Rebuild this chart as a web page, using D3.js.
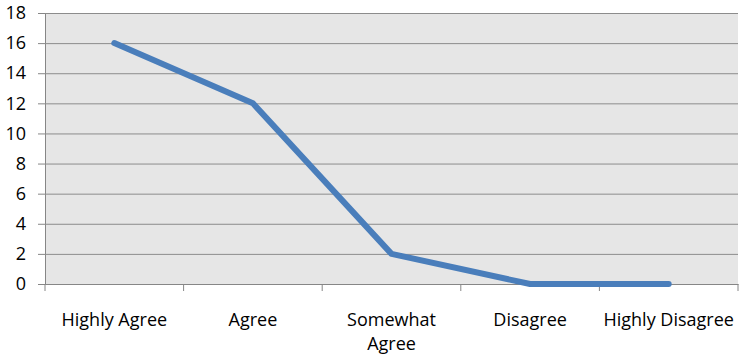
<!DOCTYPE html>
<html>
<head>
<meta charset="utf-8">
<script src="https://cdn.jsdelivr.net/npm/d3@7"></script>
<style>
  body { margin: 0; background: #fff; }
  text { font-family: "Open Sans", "Noto Sans", sans-serif; }
</style>
</head>
<body>
<div id="chart"></div>
<script>
// data
var categories = ["Highly Agree", "Agree", "Somewhat Agree", "Disagree", "Highly Disagree"];
var values = [16, 12, 2, 0, 0];
var yTicks = [0, 2, 4, 6, 8, 10, 12, 14, 16, 18];

var width = 746, height = 355;
var margin = {top: 13, right: 8, bottom: 71, left: 45};
var visWidth = width - margin.left - margin.right,
    visHeight = height - margin.top - margin.bottom;

var svg = d3.select("#chart").append("svg")
    .attr("width", width)
    .attr("height", height);

var g = svg.append("g")
    .attr("transform", `translate(${margin.left}, ${margin.top})`);

var x = d3.scaleBand()
    .domain(categories)
    .range([0, visWidth]);

var y = d3.scaleLinear()
    .domain([0, 18])
    .range([visHeight, 0]);

// plot background
g.append("rect")
    .attr("width", visWidth)
    .attr("height", visHeight)
    .attr("fill", "#e6e6e6");

// y axis with grid lines
g.append("g")
    .call(d3.axisLeft(y).tickValues(yTicks).tickSize(7).tickPadding(12))
    .call(g => g.select(".domain").attr("stroke", "#868686"))
    .call(g => g.selectAll(".tick line").attr("stroke", "#868686"))
    .call(g => g.selectAll(".tick line")
      .clone()
        .attr("x1", 0)
        .attr("x2", visWidth)
        .attr("stroke", "#8c8c8c"))
    .call(g => g.selectAll(".tick text")
        .attr("font-size", 18)
        .attr("fill", "#000"));

// x axis
var xAxis = g.append("g")
    .attr("transform", `translate(0, ${visHeight})`)
    .call(d3.axisBottom(x).tickSize(0).tickFormat(""))
    .call(g => g.select(".domain").attr("stroke", "#868686"));

// category boundary ticks
var bounds = categories.map(c => x(c)).concat([visWidth]);
xAxis.selectAll(".bound")
  .data(bounds)
  .join("line")
    .attr("x1", d => d)
    .attr("x2", d => d)
    .attr("y1", 0)
    .attr("y2", 7)
    .attr("stroke", "#868686");

// category labels
var labelLines = {"Somewhat Agree": ["Somewhat", "Agree"]};
xAxis.selectAll(".cat")
  .data(categories)
  .join("text")
    .attr("x", d => x(d) + x.bandwidth() / 2)
    .attr("y", 42)
    .attr("text-anchor", "middle")
    .attr("font-size", 18)
    .attr("fill", "#000")
    .each(function(d) {
      var lines = labelLines[d] || [d];
      d3.select(this).selectAll("tspan")
        .data(lines)
        .join("tspan")
          .attr("x", x(d) + x.bandwidth() / 2)
          .attr("dy", (l, i) => i === 0 ? 0 : 24)
          .text(l => l);
    });

// line
var line = d3.line()
    .x((d, i) => x(categories[i]) + x.bandwidth() / 2)
    .y(d => y(d));

g.append("path")
    .datum(values)
    .attr("fill", "none")
    .attr("stroke", "#4a7ebb")
    .attr("stroke-width", 6)
    .attr("stroke-linejoin", "round")
    .attr("stroke-linecap", "round")
    .attr("d", line);
</script>
</body>
</html>
